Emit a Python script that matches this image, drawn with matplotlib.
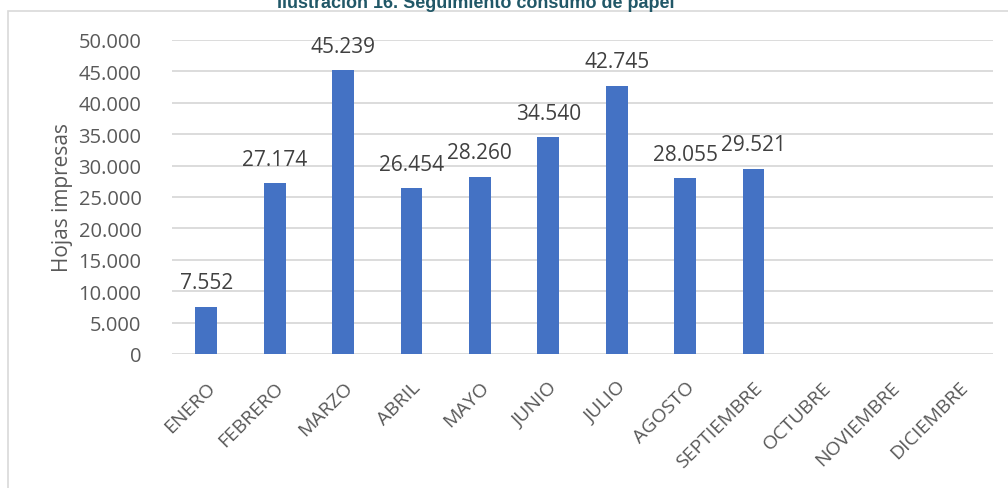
import matplotlib.pyplot as plt
from matplotlib.patches import Rectangle

meses = ['ENERO', 'FEBRERO', 'MARZO', 'ABRIL', 'MAYO', 'JUNIO', 'JULIO',
         'AGOSTO', 'SEPTIEMBRE', 'OCTUBRE', 'NOVIEMBRE', 'DICIEMBRE']
hojas = [7552, 27174, 45239, 26454, 28260, 34540, 42745, 28055, 29521]
yticks = [0, 5000, 10000, 15000, 20000, 25000, 30000, 35000, 40000, 45000, 50000]


def miles(v):
    return f'{v:,}'.replace(',', '.')


plt.rcParams['font.family'] = ['Open Sans', 'DejaVu Sans']

fig = plt.figure(figsize=(10.08, 4.89), dpi=100)
W, H = 1008, 489
ax = fig.add_axes([172 / W, 1 - 355 / H, (993 - 172) / W, (355 - 41) / H])

# marco del gráfico
fig.patches.append(Rectangle((8 / W, -0.1), 1.2, 1.1 - 12 / H, transform=fig.transFigure,
                             fill=False, edgecolor='#d9d9d9', linewidth=1.2))

x = list(range(len(meses)))
bars = ax.bar(x[:len(hojas)], hojas, width=0.32, color='#4472C4', zorder=3)
for b, v in zip(bars, hojas):
    ax.text(b.get_x() + b.get_width() / 2, v + 2100, miles(v), ha='center', va='bottom',
            fontsize=15, color='#404040')

ax.set_xlim(-0.5, len(meses) - 0.5)
ax.set_ylim(0, 50000)
ax.set_yticks(yticks)
ax.set_yticklabels([miles(v) for v in yticks], fontsize=14.5, color='#595959')
ax.set_xticks(x)
ax.set_xticklabels(meses, rotation=45, ha='right', rotation_mode='anchor',
                   fontsize=14, color='#595959')
ax.tick_params(length=0, pad=22, axis='y')
ax.tick_params(axis='x', length=0, pad=17)
ax.grid(axis='y', color='#d9d9d9', linewidth=1.3, zorder=0)
for s in ax.spines.values():
    s.set_visible(False)
ax.set_ylabel('Hojas impresas', fontsize=15, color='#595959', labelpad=4)

fig.text(476 / W, 1 - 8 / H, 'Ilustración 16. Seguimiento consumo de papel',
         ha='center', va='baseline', fontsize=13, fontweight='bold', color='#215868',
         family='Liberation Sans')

fig.savefig('out.png', dpi=100)
